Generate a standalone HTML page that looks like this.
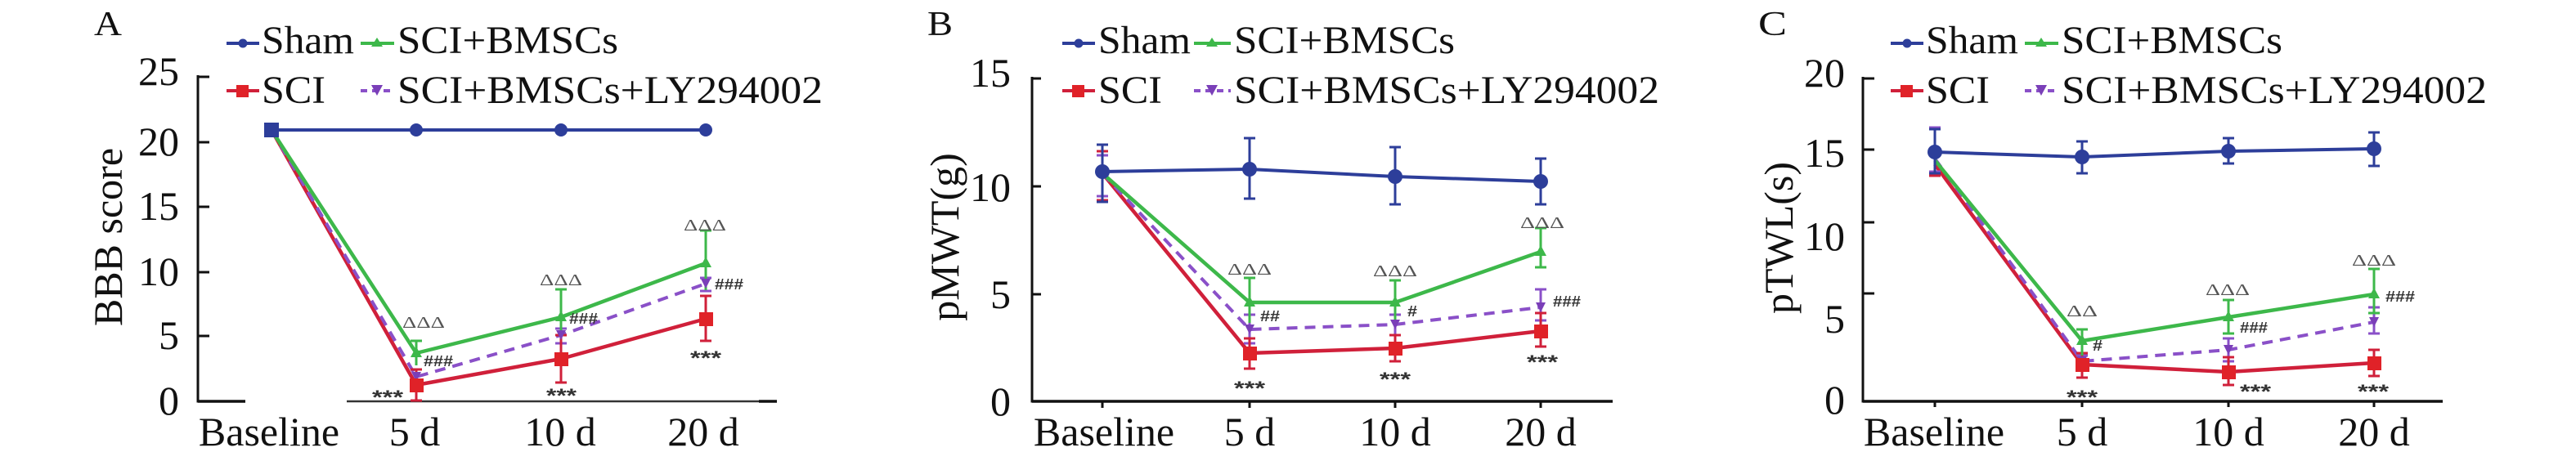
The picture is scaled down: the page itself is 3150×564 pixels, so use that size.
<!DOCTYPE html>
<html>
<head>
<meta charset="utf-8">
<style>
html,body{margin:0;padding:0;background:#fff;}
svg{display:block;}
.t{font-family:"Liberation Serif",serif;font-size:50px;fill:#111;}
.lg{font-family:"Liberation Serif",serif;font-size:48px;fill:#111;}
.pl{font-family:"Liberation Serif",serif;font-size:42px;fill:#111;}
.dl{font-family:"Liberation Serif",serif;font-size:20px;fill:#555;}
.hs{font-family:"Liberation Sans",sans-serif;font-weight:bold;font-size:18px;fill:#333;}
.st{font-family:"Liberation Sans",sans-serif;font-weight:bold;font-size:24px;fill:#333;}
</style>
</head>
<body>
<svg width="3150" height="564" viewBox="0 0 3150 564" xmlns="http://www.w3.org/2000/svg">
<rect width="3150" height="564" fill="#fff"/>

<!-- ================= PANEL A ================= -->
<g>
<text class="pl" x="115" y="43" textLength="34" lengthAdjust="spacingAndGlyphs">A</text>
<!-- legend -->
<line x1="277" y1="53" x2="317" y2="53" stroke="#2d3e9a" stroke-width="4"/>
<circle cx="297" cy="53" r="5.5" fill="#2d3e9a"/>
<text class="lg" x="320" y="65" textLength="113" lengthAdjust="spacingAndGlyphs">Sham</text>
<line x1="441" y1="53" x2="482" y2="53" stroke="#3db84a" stroke-width="4"/>
<polygon points="461,46 468,57 454,57" fill="#3db84a"/>
<text class="lg" x="486" y="65" textLength="270" lengthAdjust="spacingAndGlyphs">SCI+BMSCs</text>
<line x1="277" y1="111" x2="317" y2="111" stroke="#d0203a" stroke-width="4"/>
<rect x="289" y="104" width="15" height="15" fill="#e02228"/>
<text class="lg" x="320" y="126" textLength="78" lengthAdjust="spacingAndGlyphs">SCI</text>
<line x1="441" y1="111" x2="482" y2="111" stroke="#8a50c8" stroke-width="4" stroke-dasharray="8,6"/>
<polygon points="454,104 468,104 461,117" fill="#7a3fb8"/>
<text class="lg" x="486" y="126" textLength="520" lengthAdjust="spacingAndGlyphs">SCI+BMSCs+LY294002</text>
<!-- axes -->
<line x1="242" y1="92" x2="242" y2="492.5" stroke="#111" stroke-width="3"/>
<g stroke="#111" stroke-width="3">
<line x1="242" y1="94" x2="256" y2="94"/>
<line x1="242" y1="174" x2="256" y2="174"/>
<line x1="242" y1="253" x2="256" y2="253"/>
<line x1="242" y1="333" x2="256" y2="333"/>
<line x1="242" y1="411" x2="256" y2="411"/>
</g>
<line x1="242" y1="491" x2="300" y2="491" stroke="#111" stroke-width="3.5"/>
<line x1="424" y1="491" x2="928" y2="491" stroke="#333" stroke-width="2.5"/>
<line x1="928" y1="491" x2="950" y2="491" stroke="#111" stroke-width="3.5"/>
<g class="t" text-anchor="end">
<text x="219" y="104">25</text>
<text x="219" y="190">20</text>
<text x="219" y="269">15</text>
<text x="219" y="349">10</text>
<text x="219" y="427">5</text>
<text x="219" y="507">0</text>
</g>
<text class="t" transform="translate(149,290) rotate(-90)" text-anchor="middle" font-size="52">BBB score</text>
<g class="t" text-anchor="middle">
<text x="329" y="545">Baseline</text>
<text x="507" y="545">5 d</text>
<text x="685" y="545">10 d</text>
<text x="860" y="545">20 d</text>
</g>
<!-- series -->
<polyline points="332,159 509,471 686,439 863,390" fill="none" stroke="#d0203a" stroke-width="4.5" stroke-linejoin="round"/>
<polyline points="332,159 509,461 686,410 863,347" fill="none" stroke="#8a50c8" stroke-width="4" stroke-dasharray="13,9"/>
<polyline points="332,159 509,432 686,388 863,322" fill="none" stroke="#3db84a" stroke-width="4.5" stroke-linejoin="round"/>
<line x1="332" y1="159" x2="863" y2="159" stroke="#2d3e9a" stroke-width="4"/>
<!-- error bars -->
<g fill="none" stroke-width="3">
<path stroke="#8a50c8" d="M509 452V468M502 452H516M502 468H516 M686 402V420M679 402H693M679 420H693 M863 340V356M856 340H870M856 356H870"/>
<path stroke="#d0203a" d="M509 452V490M502 452H516M502 490H516 M686 410V468M679 410H693M679 468H693 M863 362V417M856 362H870M856 417H870"/>
<path stroke="#3db84a" d="M509 417V447M502 417H516 M686 354V410M679 354H693 M863 282V355M856 282H870"/>
</g>
<!-- markers -->
<g fill="#7a3fb8"><polygon points="503,455 515,455 509,467"/><polygon points="680,404 692,404 686,416"/><polygon points="857,341 869,341 863,353"/></g>
<g fill="#e02228"><rect x="501" y="463" width="17" height="17"/><rect x="678" y="431" width="17" height="17"/><rect x="855" y="382" width="17" height="17"/></g>
<g fill="#3db84a"><polygon points="509,424 516,437 502,437"/><polygon points="686,380 693,393 679,393"/><polygon points="863,314 870,327 856,327"/></g>
<rect x="323" y="150" width="18" height="18" fill="#2d3e9a"/>
<g fill="#2d3e9a"><circle cx="509" cy="159" r="8"/><circle cx="686" cy="159" r="8"/><circle cx="863" cy="159" r="8"/></g>
<!-- annotations -->
<text class="dl" x="518" y="401" text-anchor="middle" textLength="52" lengthAdjust="spacingAndGlyphs">ΔΔΔ</text>
<text class="dl" x="686" y="349" text-anchor="middle" textLength="52" lengthAdjust="spacingAndGlyphs">ΔΔΔ</text>
<text class="dl" x="862" y="282" text-anchor="middle" textLength="52" lengthAdjust="spacingAndGlyphs">ΔΔΔ</text>
<text class="hs" x="518" y="448" textLength="36" lengthAdjust="spacingAndGlyphs">###</text>
<text class="hs" x="696" y="396" textLength="35" lengthAdjust="spacingAndGlyphs">###</text>
<text class="hs" x="874" y="354" textLength="35" lengthAdjust="spacingAndGlyphs">###</text>
<text class="st" x="455" y="494" textLength="38" lengthAdjust="spacingAndGlyphs">***</text>
<text class="st" x="668" y="492" textLength="37" lengthAdjust="spacingAndGlyphs">***</text>
<text class="st" x="844" y="446" textLength="38" lengthAdjust="spacingAndGlyphs">***</text>
</g>

<!-- ================= PANEL B ================= -->
<g>
<text class="pl" x="1134" y="43" textLength="31" lengthAdjust="spacingAndGlyphs">B</text>
<line x1="1299" y1="53" x2="1339" y2="53" stroke="#2d3e9a" stroke-width="4"/>
<circle cx="1319" cy="53" r="5.5" fill="#2d3e9a"/>
<text class="lg" x="1343" y="65" textLength="113" lengthAdjust="spacingAndGlyphs">Sham</text>
<line x1="1460" y1="53" x2="1505" y2="53" stroke="#3db84a" stroke-width="4"/>
<polygon points="1482,46 1489,57 1475,57" fill="#3db84a"/>
<text class="lg" x="1509" y="65" textLength="270" lengthAdjust="spacingAndGlyphs">SCI+BMSCs</text>
<line x1="1299" y1="111" x2="1339" y2="111" stroke="#d0203a" stroke-width="4"/>
<rect x="1311" y="104" width="15" height="15" fill="#e02228"/>
<text class="lg" x="1343" y="126" textLength="78" lengthAdjust="spacingAndGlyphs">SCI</text>
<line x1="1460" y1="111" x2="1505" y2="111" stroke="#8a50c8" stroke-width="4" stroke-dasharray="8,6"/>
<polygon points="1475,104 1489,104 1482,117" fill="#7a3fb8"/>
<text class="lg" x="1509" y="126" textLength="520" lengthAdjust="spacingAndGlyphs">SCI+BMSCs+LY294002</text>
<line x1="1262" y1="94" x2="1262" y2="492.5" stroke="#111" stroke-width="3"/>
<g stroke="#111" stroke-width="3">
<line x1="1262" y1="96" x2="1273" y2="96"/>
<line x1="1262" y1="228" x2="1273" y2="228"/>
<line x1="1262" y1="360" x2="1273" y2="360"/>
<line x1="1262" y1="491" x2="1972" y2="491" stroke-width="3.5"/>
<line x1="1348" y1="491" x2="1348" y2="499"/>
<line x1="1528" y1="491" x2="1528" y2="499"/>
<line x1="1706" y1="491" x2="1706" y2="499"/>
<line x1="1884" y1="491" x2="1884" y2="499"/>
</g>
<g class="t" text-anchor="end">
<text x="1236" y="106">15</text>
<text x="1236" y="246">10</text>
<text x="1236" y="377">5</text>
<text x="1236" y="508">0</text>
</g>
<text class="t" transform="translate(1172,290) rotate(-90)" text-anchor="middle" font-size="52">pMWT(g)</text>
<g class="t" text-anchor="middle">
<text x="1350" y="545">Baseline</text>
<text x="1528" y="545">5 d</text>
<text x="1706" y="545">10 d</text>
<text x="1884" y="545">20 d</text>
</g>
<polyline points="1348,212 1528,432 1706,426 1884,405" fill="none" stroke="#d0203a" stroke-width="4.5" stroke-linejoin="round"/>
<polyline points="1348,212 1528,403 1706,397 1884,376" fill="none" stroke="#8a50c8" stroke-width="4" stroke-dasharray="13,9"/>
<polyline points="1348,212 1528,370 1706,370 1884,308" fill="none" stroke="#3db84a" stroke-width="4.5" stroke-linejoin="round"/>
<polyline points="1348,210 1528,207 1706,216 1884,222" fill="none" stroke="#2d3e9a" stroke-width="4"/>
<g fill="none" stroke-width="3">
<path stroke="#8a50c8" d="M1348 190V240M1341 190H1355M1341 240H1355 M1528 385V420M1521 385H1535M1521 420H1535 M1706 385V410M1699 385H1713M1699 410H1713 M1884 354V392M1877 354H1891M1877 392H1891"/>
<path stroke="#d0203a" d="M1348 185V245M1341 185H1355M1341 245H1355 M1528 414V451M1521 414H1535M1521 451H1535 M1706 410V442M1699 410H1713M1699 442H1713 M1884 383V424M1877 383H1891M1877 424H1891"/>
<path stroke="#3db84a" d="M1528 340V395M1521 340H1535 M1706 343V395M1699 343H1713 M1884 279V327M1877 279H1891M1877 327H1891"/>
<path stroke="#2d3e9a" d="M1348 177V247M1341 177H1355M1341 247H1355 M1528 169V243M1521 169H1535M1521 243H1535 M1706 180V250M1699 180H1713M1699 250H1713 M1884 194V250M1877 194H1891M1877 250H1891"/>
</g>
<g fill="#7a3fb8"><polygon points="1522,397 1534,397 1528,409"/><polygon points="1700,391 1712,391 1706,403"/><polygon points="1878,370 1890,370 1884,382"/></g>
<g fill="#e02228"><rect x="1520" y="424" width="17" height="17"/><rect x="1698" y="418" width="17" height="17"/><rect x="1876" y="397" width="17" height="17"/></g>
<g fill="#3db84a"><polygon points="1528,362 1535,375 1521,375"/><polygon points="1706,362 1713,375 1699,375"/><polygon points="1884,300 1891,313 1877,313"/></g>
<g fill="#2d3e9a"><circle cx="1348" cy="210" r="9"/><circle cx="1528" cy="207" r="9"/><circle cx="1706" cy="216" r="9"/><circle cx="1884" cy="222" r="9"/></g>
<text class="dl" x="1528" y="336" text-anchor="middle" textLength="54" lengthAdjust="spacingAndGlyphs">ΔΔΔ</text>
<text class="dl" x="1706" y="338" text-anchor="middle" textLength="54" lengthAdjust="spacingAndGlyphs">ΔΔΔ</text>
<text class="dl" x="1886" y="279" text-anchor="middle" textLength="54" lengthAdjust="spacingAndGlyphs">ΔΔΔ</text>
<text class="hs" x="1541" y="393" textLength="24" lengthAdjust="spacingAndGlyphs">##</text>
<text class="hs" x="1721" y="387" textLength="12" lengthAdjust="spacingAndGlyphs">#</text>
<text class="hs" x="1899" y="375" textLength="34" lengthAdjust="spacingAndGlyphs">###</text>
<text class="st" x="1528" y="483" text-anchor="middle" textLength="38" lengthAdjust="spacingAndGlyphs">***</text>
<text class="st" x="1706" y="472" text-anchor="middle" textLength="38" lengthAdjust="spacingAndGlyphs">***</text>
<text class="st" x="1886" y="451" text-anchor="middle" textLength="38" lengthAdjust="spacingAndGlyphs">***</text>
</g>

<!-- ================= PANEL C ================= -->
<g>
<text class="pl" x="2150" y="43" textLength="35" lengthAdjust="spacingAndGlyphs">C</text>
<line x1="2312" y1="53" x2="2352" y2="53" stroke="#2d3e9a" stroke-width="4"/>
<circle cx="2332" cy="53" r="5.5" fill="#2d3e9a"/>
<text class="lg" x="2355" y="65" textLength="113" lengthAdjust="spacingAndGlyphs">Sham</text>
<line x1="2476" y1="53" x2="2517" y2="53" stroke="#3db84a" stroke-width="4"/>
<polygon points="2496,46 2503,57 2489,57" fill="#3db84a"/>
<text class="lg" x="2521" y="65" textLength="270" lengthAdjust="spacingAndGlyphs">SCI+BMSCs</text>
<line x1="2312" y1="111" x2="2352" y2="111" stroke="#d0203a" stroke-width="4"/>
<rect x="2324" y="104" width="15" height="15" fill="#e02228"/>
<text class="lg" x="2355" y="126" textLength="78" lengthAdjust="spacingAndGlyphs">SCI</text>
<line x1="2476" y1="111" x2="2517" y2="111" stroke="#8a50c8" stroke-width="4" stroke-dasharray="8,6"/>
<polygon points="2489,104 2503,104 2496,117" fill="#7a3fb8"/>
<text class="lg" x="2521" y="126" textLength="520" lengthAdjust="spacingAndGlyphs">SCI+BMSCs+LY294002</text>
<line x1="2278" y1="94" x2="2278" y2="492.5" stroke="#111" stroke-width="3"/>
<g stroke="#111" stroke-width="3">
<line x1="2278" y1="96" x2="2292" y2="96"/>
<line x1="2278" y1="183" x2="2292" y2="183"/>
<line x1="2278" y1="272" x2="2292" y2="272"/>
<line x1="2278" y1="359" x2="2292" y2="359"/>
<line x1="2278" y1="491" x2="2987" y2="491" stroke-width="3.5"/>
<line x1="2366" y1="491" x2="2366" y2="498"/>
<line x1="2546" y1="491" x2="2546" y2="498"/>
<line x1="2725" y1="491" x2="2725" y2="498"/>
<line x1="2903" y1="491" x2="2903" y2="498"/>
</g>
<g class="t" text-anchor="end">
<text x="2256" y="106">20</text>
<text x="2256" y="204">15</text>
<text x="2256" y="306">10</text>
<text x="2256" y="407">5</text>
<text x="2256" y="506">0</text>
</g>
<text class="t" transform="translate(2192,291) rotate(-90)" text-anchor="middle" font-size="52">pTWL(s)</text>
<g class="t" text-anchor="middle">
<text x="2365" y="545">Baseline</text>
<text x="2546" y="545">5 d</text>
<text x="2725" y="545">10 d</text>
<text x="2903" y="545">20 d</text>
</g>
<polyline points="2366,201 2546,446 2725,455 2903,444" fill="none" stroke="#d0203a" stroke-width="4.5" stroke-linejoin="round"/>
<polyline points="2366,194 2546,442 2725,428 2903,394" fill="none" stroke="#8a50c8" stroke-width="4" stroke-dasharray="13,9"/>
<polyline points="2366,196 2546,417 2725,388 2903,360" fill="none" stroke="#3db84a" stroke-width="4.5" stroke-linejoin="round"/>
<polyline points="2366,186 2546,192 2725,185 2903,182" fill="none" stroke="#2d3e9a" stroke-width="4"/>
<g fill="none" stroke-width="3">
<path stroke="#8a50c8" d="M2366 156V210M2359 156H2373M2359 210H2373 M2546 435V450M2539 435H2553M2539 450H2553 M2725 414V442M2718 414H2732M2718 442H2732 M2903 376V408M2896 376H2910M2896 408H2910"/>
<path stroke="#d0203a" d="M2366 190V215M2359 190H2373M2359 215H2373 M2546 432V462M2539 432H2553M2539 462H2553 M2725 437V471M2718 437H2732M2718 471H2732 M2903 428V460M2896 428H2910M2896 460H2910"/>
<path stroke="#3db84a" d="M2546 403V435M2539 403H2553 M2725 367V408M2718 367H2732M2718 408H2732 M2903 329V383M2896 329H2910M2896 383H2910"/>
<path stroke="#2d3e9a" d="M2366 158V212M2359 158H2373M2359 212H2373 M2546 173V212M2539 173H2553M2539 212H2553 M2725 169V200M2718 169H2732M2718 200H2732 M2903 162V203M2896 162H2910M2896 203H2910"/>
</g>
<g fill="#7a3fb8"><polygon points="2540,436 2552,436 2546,448"/><polygon points="2719,422 2731,422 2725,434"/><polygon points="2897,388 2909,388 2903,400"/></g>
<g fill="#e02228"><rect x="2538" y="438" width="17" height="17"/><rect x="2717" y="447" width="17" height="17"/><rect x="2895" y="436" width="17" height="17"/></g>
<g fill="#3db84a"><polygon points="2546,409 2553,422 2539,422"/><polygon points="2725,380 2732,393 2718,393"/><polygon points="2903,352 2910,365 2896,365"/></g>
<g fill="#2d3e9a"><circle cx="2366" cy="186" r="9"/><circle cx="2546" cy="192" r="9"/><circle cx="2725" cy="185" r="9"/><circle cx="2903" cy="182" r="9"/></g>
<text class="dl" x="2546" y="387" text-anchor="middle" textLength="38" lengthAdjust="spacingAndGlyphs">ΔΔ</text>
<text class="dl" x="2724" y="361" text-anchor="middle" textLength="54" lengthAdjust="spacingAndGlyphs">ΔΔΔ</text>
<text class="dl" x="2903" y="325" text-anchor="middle" textLength="54" lengthAdjust="spacingAndGlyphs">ΔΔΔ</text>
<text class="hs" x="2559" y="429" textLength="12" lengthAdjust="spacingAndGlyphs">#</text>
<text class="hs" x="2739" y="407" textLength="34" lengthAdjust="spacingAndGlyphs">###</text>
<text class="hs" x="2917" y="369" textLength="36" lengthAdjust="spacingAndGlyphs">###</text>
<text class="st" x="2546" y="494" text-anchor="middle" textLength="38" lengthAdjust="spacingAndGlyphs">***</text>
<text class="st" x="2739" y="487" textLength="38" lengthAdjust="spacingAndGlyphs">***</text>
<text class="st" x="2902" y="487" text-anchor="middle" textLength="38" lengthAdjust="spacingAndGlyphs">***</text>
</g>
</svg>
</body>
</html>
